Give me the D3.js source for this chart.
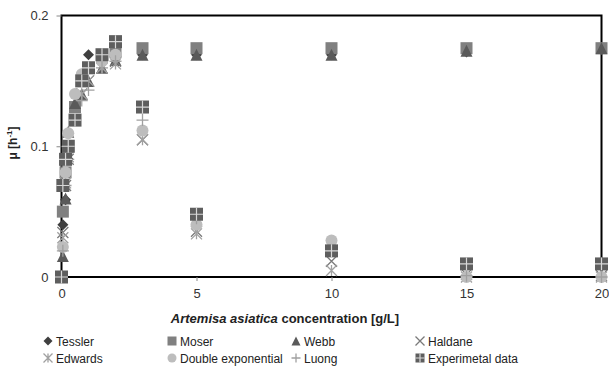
<!DOCTYPE html>
<html><head><meta charset="utf-8">
<script src="https://cdn.jsdelivr.net/npm/d3@7"></script>
<style>body{margin:0;background:#fff}svg{display:block}text{font-family:"Liberation Sans",Arial,sans-serif}</style>
</head><body><svg id="c" width="609" height="369"></svg>
<script>
const xValues = [0, 0.05, 0.15, 0.25, 0.5, 0.75, 1, 1.5, 2, 3, 5, 10, 15, 20];
const tessler   = [0, 0.040, 0.059, 0.090, 0.130, 0.155, 0.170, 0.170, 0.170, 0.170, 0.170, 0.170, 0.172, 0.174];
const moser     = [0, 0.050, 0.080, 0.100, 0.130, 0.150, 0.160, 0.168, 0.172, 0.175, 0.175, 0.175, 0.175, 0.175];
const webb      = [0, 0.016, 0.060, 0.111, 0.133, 0.140, 0.150, 0.160, 0.166, 0.170, 0.170, 0.170, 0.173, 0.175];
const haldane   = [0, 0.034, 0.070, 0.090, 0.120, 0.140, 0.150, 0.160, 0.165, 0.105, 0.035, 0.012, 0.002, 0.001];
const edwards   = [0, 0.030, 0.072, 0.092, 0.120, 0.140, 0.150, 0.160, 0.163, 0.105, 0.033, 0.005, 0.000, 0.000];
const doubleExp = [0, 0.023, 0.080, 0.110, 0.140, 0.155, 0.160, 0.165, 0.170, 0.112, 0.040, 0.028, 0.000, 0.000];
const luong     = [0, 0.020, 0.070, 0.090, 0.120, 0.135, 0.143, 0.160, 0.165, 0.120, 0.045, 0.020, 0.001, 0.000];
const experimental = [0, 0.070, 0.090, 0.100, 0.120, 0.150, 0.160, 0.170, 0.180, 0.130, 0.048, 0.020, 0.010, 0.010];
const seriesNames = ["Tessler","Moser","Webb","Haldane","Edwards","Double exponential","Luong","Experimetal data"];
const xTicks = [0, 5, 10, 15, 20];
const yTicks = [0, 0.1, 0.2];

const seriesData = [tessler, moser, webb, haldane, edwards, doubleExp, luong, experimental];
const styles = [
  {shape:"diamond", color:"#3f3f3f"},
  {shape:"square", color:"#808080"},
  {shape:"triangle", color:"#5a5a5a"},
  {shape:"x", color:"#7a7a7a"},
  {shape:"asterisk", color:"#a0a0a0"},
  {shape:"circle", color:"#bdbdbd"},
  {shape:"plus", color:"#a0a0a0"},
  {shape:"grid", color:"#5e5e5e"}
];

const svg = d3.select("#c");
const x = d3.scaleLinear().domain([0,20]).range([61.5,601.5]);
const y = d3.scaleLinear().domain([0,0.2]).range([277,15.5]);

svg.append("rect").attr("x",x(0)).attr("y",y(0.2)).attr("width",x(20)-x(0)).attr("height",y(0)-y(0.2))
  .attr("fill","none").attr("stroke","#000").attr("stroke-width",2);

const xAxis = d3.axisBottom(x).tickValues(xTicks).tickSize(4).tickFormat(d3.format("d"));
const gx = svg.append("g").attr("transform",`translate(0,${y(0)})`).call(xAxis);
gx.select(".domain").remove();
gx.selectAll(".tick line").attr("stroke","#888");
gx.selectAll(".tick text").attr("font-size",13).attr("fill","#333").attr("dy","1.05em")
  .attr("font-family","Liberation Sans, Arial, sans-serif");

const yAxis = d3.axisLeft(y).tickValues(yTicks).tickSize(5).tickFormat(d => d===0?"0":d3.format(".1f")(d));
const gy = svg.append("g").attr("transform",`translate(${x(0)},0)`).call(yAxis);
gy.select(".domain").remove();
gy.selectAll(".tick line").attr("stroke","#888");
gy.selectAll(".tick text").attr("font-size",13).attr("fill","#333").attr("x",-13)
  .attr("font-family","Liberation Sans, Arial, sans-serif");

function drawMarker(g, shape, color, s) {
  const h = s/2;
  if (shape==="diamond") {
    g.append("path").attr("d",`M0,${-h}L${h},0L0,${h}L${-h},0Z`).attr("fill",color);
  } else if (shape==="square") {
    g.append("rect").attr("x",-h).attr("y",-h).attr("width",s).attr("height",s).attr("fill",color);
  } else if (shape==="triangle") {
    g.append("path").attr("d",`M0,${-h}L${h},${h}L${-h},${h}Z`).attr("fill",color);
  } else if (shape==="x") {
    g.append("path").attr("d",`M${-h},${-h}L${h},${h}M${h},${-h}L${-h},${h}`).attr("stroke",color).attr("stroke-width",1.3).attr("fill","none");
  } else if (shape==="asterisk") {
    g.append("path").attr("d",`M${-h},${-h}L${h},${h}M${h},${-h}L${-h},${h}M0,${-h}L0,${h}`).attr("stroke",color).attr("stroke-width",1.3).attr("fill","none");
  } else if (shape==="circle") {
    g.append("circle").attr("r",h).attr("fill",color);
  } else if (shape==="plus") {
    g.append("path").attr("d",`M${-h},0L${h},0M0,${-h}L0,${h}`).attr("stroke",color).attr("stroke-width",1.3).attr("fill","none");
  } else if (shape==="grid") {
    g.append("rect").attr("x",-h).attr("y",-h).attr("width",s).attr("height",s).attr("fill",color);
    g.append("path").attr("d",`M${-h},0L${h},0M0,${-h}L0,${h}`).attr("stroke","#d8d8d8").attr("stroke-width",1.2);
  }
}
const sizes = [11, 12, 12, 11, 11, 12, 12, 13];

seriesData.forEach((vals, i) => {
  const g = svg.append("g").attr("class","series");
  vals.forEach((v, j) => {
    const m = g.append("g").attr("transform",`translate(${x(xValues[j])},${y(v)})`);
    drawMarker(m, styles[i].shape, styles[i].color, sizes[i]);
  });
});

const xt = svg.append("text").attr("x",285).attr("y",323).attr("text-anchor","middle")
  .attr("font-size",13).attr("font-weight","bold").attr("fill","#222");
xt.append("tspan").attr("font-style","italic").text("Artemisa asiatica");
xt.append("tspan").text(" concentration [g/L]");

const yt = svg.append("text").attr("transform","translate(17,143) rotate(-90)").attr("text-anchor","middle")
  .attr("font-size",12).attr("font-weight","bold").attr("fill","#222");
yt.append("tspan").text("μ [h");
yt.append("tspan").attr("font-size",8).attr("dy",-5).text("-1");
yt.append("tspan").attr("dy",5).text("]");

const legX = [48, 172, 296, 420];
const legY = [341, 358];
seriesNames.forEach((name, i) => {
  const col = i % 4, row = Math.floor(i/4);
  const g = svg.append("g").attr("transform",`translate(${legX[col]},${legY[row]})`);
  const m = g.append("g");
  drawMarker(m, styles[i].shape, styles[i].color, 9);
  g.append("text").attr("x",8).attr("y",4.5).attr("font-size",12).attr("fill","#222").text(name);
});
</script></body></html>
